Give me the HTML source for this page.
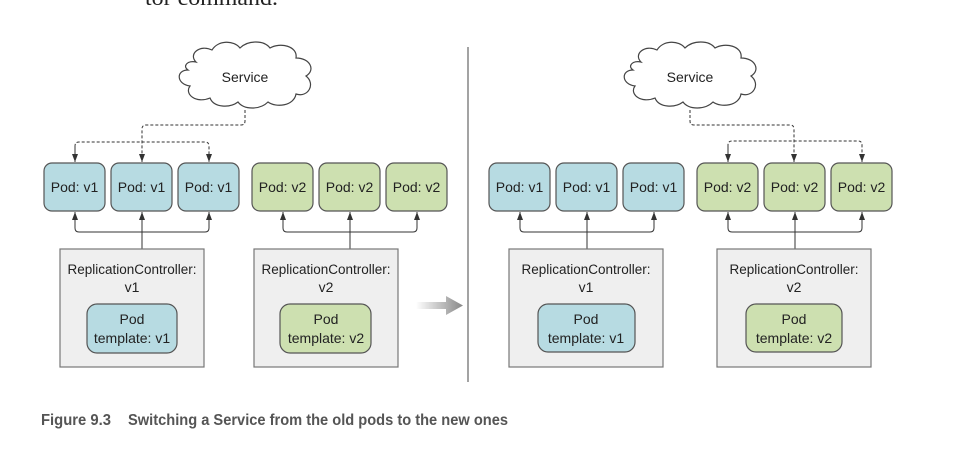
<!DOCTYPE html>
<html><head><meta charset="utf-8"><style>
html,body{margin:0;padding:0;background:#fff;width:966px;height:452px;overflow:hidden}
svg{display:block}
text{font-family:"Liberation Sans",sans-serif;fill:#222}
</style></head><body>
<svg width="966" height="452" viewBox="0 0 966 452" xmlns="http://www.w3.org/2000/svg">
<defs>
<marker id="a" viewBox="0 0 8 6" refX="8" refY="3" markerWidth="8" markerHeight="6" orient="auto-start-reverse" markerUnits="userSpaceOnUse">
<path d="M0,0 L8,3 L0,6 z" fill="#333"/></marker>
<linearGradient id="g" x1="0" x2="1"><stop offset="0" stop-color="#fff"/><stop offset="1" stop-color="#888"/></linearGradient>
<g id="cloud">
<path d="M20,22 C12,14 24,4 36,10 C42,0 58,0 64,8 C72,0 88,0 94,8 C104,2 122,6 120,18 C134,18 140,30 130,36 C140,44 132,58 120,54 C118,66 100,68 92,62 C84,70 68,70 62,62 C54,68 38,68 34,58 C20,64 8,54 14,46 C0,44 0,30 12,30 C6,26 12,20 20,22 Z" fill="#fff" stroke="#444" stroke-width="1.2"/>
</g>
</defs>
<text x="145" y="5" font-size="22" style="font-family:'Liberation Serif',serif" fill="#333" textLength="133" lengthAdjust="spacingAndGlyphs">tor command.</text>

<!-- LEFT -->
<use href="#cloud" x="176" y="40"/>
<text x="245" y="82" font-size="14" text-anchor="middle">Service</text>
<g fill="none" stroke="#333" stroke-width="1" stroke-dasharray="3,2">
<path d="M245,110 V121 Q245,125 241,125 H146 Q142,125 142,129 V162" marker-end="url(#a)"/>
<path d="M75,162 V146 Q75,142 79,142 H205 Q209,142 209,146 V162" marker-end="url(#a)"/>
<path d="M75,146 V162" marker-end="url(#a)"/>
</g>
<g fill="none" stroke="#333" stroke-width="1">
<path d="M75,212 V228 Q75,232 79,232 H205 Q209,232 209,228 V212" marker-start="url(#a)" marker-end="url(#a)"/>
<path d="M142,249 V212" marker-end="url(#a)"/>
<path d="M283,212 V228 Q283,232 287,232 H413 Q417,232 417,228 V212" marker-start="url(#a)" marker-end="url(#a)"/>
<path d="M350,249 V212" marker-end="url(#a)"/>
</g>
<g stroke="#555" stroke-width="1.2">
<rect x="44" y="163" width="61" height="48" rx="8" fill="#b7dbe2"/>
<rect x="111" y="163" width="61" height="48" rx="8" fill="#b7dbe2"/>
<rect x="178" y="163" width="61" height="48" rx="8" fill="#b7dbe2"/>
<rect x="252" y="163" width="61" height="48" rx="8" fill="#cde0b0"/>
<rect x="319" y="163" width="61" height="48" rx="8" fill="#cde0b0"/>
<rect x="386" y="163" width="61" height="48" rx="8" fill="#cde0b0"/>
<rect x="60" y="249" width="144" height="118" fill="#efefef" stroke="#777"/>
<rect x="254" y="249" width="144" height="118" fill="#efefef" stroke="#777"/>
<rect x="87" y="304" width="90" height="49" rx="10" fill="#b7dbe2"/>
<rect x="280" y="304" width="91" height="49" rx="10" fill="#cde0b0"/>
</g>
<g font-size="14" text-anchor="middle">
<text x="74.5" y="192">Pod: v1</text><text x="141.5" y="192">Pod: v1</text><text x="208.5" y="192">Pod: v1</text>
<text x="282.5" y="192">Pod: v2</text><text x="349.5" y="192">Pod: v2</text><text x="416.5" y="192">Pod: v2</text>
<text x="132" y="274" font-size="13.5">ReplicationController:</text><text x="132" y="292">v1</text>
<text x="326" y="274" font-size="13.5">ReplicationController:</text><text x="326" y="292">v2</text>
<text x="132" y="324">Pod</text><text x="132" y="343">template: v1</text>
<text x="326" y="324">Pod</text><text x="326" y="343">template: v2</text>
</g>

<line x1="468" y1="47" x2="468" y2="382" stroke="#666" stroke-width="1.2"/>
<path d="M416,302 H446 V296 L463,305.5 L446,315 V309 H416 Z" fill="url(#g)"/>

<!-- RIGHT -->
<use href="#cloud" x="621" y="40"/>
<text x="690" y="82" font-size="14" text-anchor="middle">Service</text>
<g fill="none" stroke="#333" stroke-width="1" stroke-dasharray="3,2">
<path d="M690,110 V121 Q690,125 694,125 H790 Q794,125 794,129 V162" marker-end="url(#a)"/>
<path d="M728,162 V145 Q728,141 732,141 H858 Q862,141 862,145 V162" marker-end="url(#a)"/>
<path d="M728,146 V162" marker-end="url(#a)"/>
</g>
<g fill="none" stroke="#333" stroke-width="1">
<path d="M520,212 V228 Q520,232 524,232 H650 Q654,232 654,228 V212" marker-start="url(#a)" marker-end="url(#a)"/>
<path d="M587,249 V212" marker-end="url(#a)"/>
<path d="M728,212 V228 Q728,232 732,232 H858 Q862,232 862,228 V212" marker-start="url(#a)" marker-end="url(#a)"/>
<path d="M795,249 V212" marker-end="url(#a)"/>
</g>
<g stroke="#555" stroke-width="1.2">
<rect x="489" y="163" width="61" height="48" rx="8" fill="#b7dbe2"/>
<rect x="556" y="163" width="61" height="48" rx="8" fill="#b7dbe2"/>
<rect x="623" y="163" width="61" height="48" rx="8" fill="#b7dbe2"/>
<rect x="697" y="163" width="61" height="48" rx="8" fill="#cde0b0"/>
<rect x="764" y="163" width="61" height="48" rx="8" fill="#cde0b0"/>
<rect x="831" y="163" width="61" height="48" rx="8" fill="#cde0b0"/>
<rect x="509" y="249" width="154" height="118" fill="#efefef" stroke="#777"/>
<rect x="717" y="249" width="154" height="118" fill="#efefef" stroke="#777"/>
<rect x="538" y="304" width="97" height="48" rx="10" fill="#b7dbe2"/>
<rect x="746" y="304" width="96" height="48" rx="10" fill="#cde0b0"/>
</g>
<g font-size="14" text-anchor="middle">
<text x="519.5" y="192">Pod: v1</text><text x="586.5" y="192">Pod: v1</text><text x="653.5" y="192">Pod: v1</text>
<text x="727.5" y="192">Pod: v2</text><text x="794.5" y="192">Pod: v2</text><text x="861.5" y="192">Pod: v2</text>
<text x="586" y="274" font-size="13.5">ReplicationController:</text><text x="586" y="292">v1</text>
<text x="794" y="274" font-size="13.5">ReplicationController:</text><text x="794" y="292">v2</text>
<text x="586" y="324">Pod</text><text x="586" y="343">template: v1</text>
<text x="794" y="324">Pod</text><text x="794" y="343">template: v2</text>
</g>

<text x="41" y="425" font-size="16" font-weight="bold" style="fill:#555" textLength="70" lengthAdjust="spacingAndGlyphs">Figure 9.3</text>
<text x="128" y="425" font-size="16" font-weight="bold" style="fill:#555" textLength="380" lengthAdjust="spacingAndGlyphs">Switching a Service from the old pods to the new ones</text>
</svg>
</body></html>
